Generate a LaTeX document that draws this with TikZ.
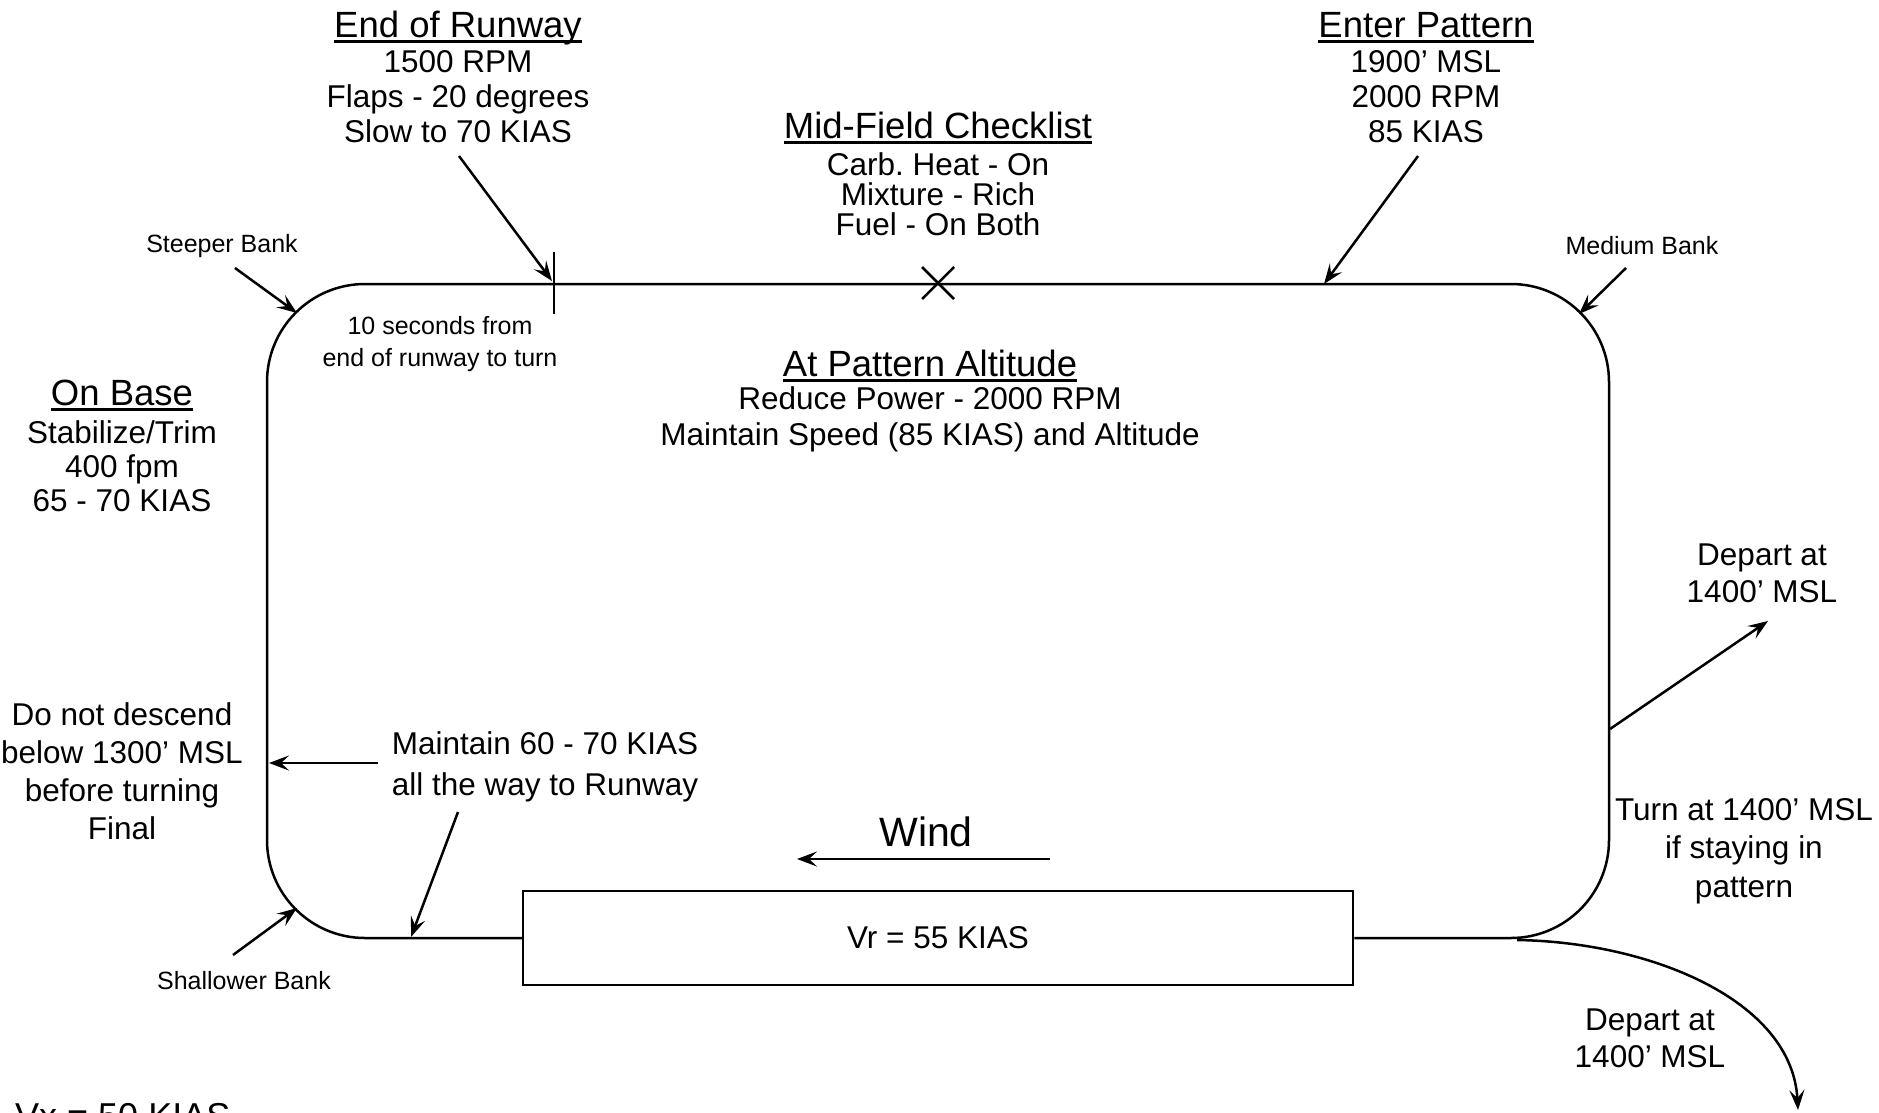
\documentclass[tikz,border=0pt]{standalone}
\usepackage{fontspec}
\setmainfont{Liberation Sans}
\usetikzlibrary{arrows.meta}
\frenchspacing
\newsavebox\ulbox
\newcommand{\ulx}[1]{\sbox\ulbox{#1}\rlap{\rule[-0.17em]{\wd\ulbox}{0.075em}}\usebox\ulbox}
\tikzset{
  ln/.style={line width=2.5pt},
  arr/.style={ln, -{Stealth[length=20pt,width=15pt,inset=8pt]}},
  ttl/.style={font=\fontsize{36.5}{40}\selectfont, inner sep=0pt, anchor=base},
  body/.style={font=\fontsize{31.5}{#1}\selectfont, align=center, inner sep=0pt},
  body/.default=35,
  small/.style={font=\fontsize{25}{32}\selectfont, align=center, inner sep=0pt},
}
\begin{document}
\begin{tikzpicture}[x=1pt,y=-1pt]
\fill[white] (0,0) rectangle (1879,1112);
\clip (0,0) rectangle (1879,1112);

% runway
\node[draw, ln, minimum width=830pt, minimum height=94pt, inner sep=0pt,
      font=\fontsize{31.5}{35}\selectfont] (rw) at (938,938) {Vr = 55 KIAS};

% traffic pattern
\draw[ln, rounded corners=98pt] (rw.west) -- (267,938) -- (267,284) -- (1609,284) -- (1609,938) -- (rw.east);

% end-of-runway tick and mid-field cross
\coordinate (tick) at (554,283);
\draw[ln] (554,252) -- (554,314);
\coordinate (mid) at (938,283);
\draw[ln] (922,267) -- (954,299) (922,299) -- (954,267);

% texts
\node[ttl] (eorT) at (458,37) {\ulx{End of Runway}};
\node[body] (eorB) at (458,97) {1500 RPM\\Flaps - 20 degrees\\Slow to 70 KIAS};
\node[ttl] (epT) at (1426,37) {\ulx{Enter Pattern}};
\node[body] (epB) at (1426,97) {1900’ MSL\\2000 RPM\\85 KIAS};
\node[ttl] (mfT) at (938,138) {\ulx{Mid-Field Checklist}};
\node[body=30] (mfB) at (938,194) {Carb. Heat - On\\Mixture - Rich\\Fuel - On Both};
\node[ttl] (apT) at (930,376) {\ulx{At Pattern Altitude}};
\node[body=36] (apB) at (930,419) {Reduce Power - 2000 RPM\\Maintain Speed (85 KIAS) and Altitude};
\node[ttl] (obT) at (122,405) {\ulx{On Base}};
\node[body=34] (obB) at (122,466) {Stabilize/Trim\\400 fpm\\65 - 70 KIAS};
\node[small] (steep) at (222,246) {Steeper Bank};
\node[small] (medium) at (1642,246) {Medium Bank};
\node[small] (shallow) at (244,981) {Shallower Bank};
\node[small] (tensec) at (440,344) {10 seconds from\\end of runway to turn};
\node[body=38] (dnd) at (122,771) {Do not descend\\below 1300’ MSL\\before turning\\Final};
\node[body=41] (maint) at (545,767) {Maintain 60 - 70 KIAS\\all the way to Runway};
\node[body=38.5] (turn) at (1744,851) {Turn at 1400’ MSL\\if staying in\\pattern};
\node[body=37] (depR) at (1762,573) {Depart at\\1400’ MSL};
\node[body=37] (depB) at (1650,1038) {Depart at\\1400’ MSL};
\node[font=\fontsize{41}{46}\selectfont, inner sep=0pt] (wind) at (926,832) {Wind};
\node[font=\fontsize{36}{40}\selectfont, inner sep=0pt, anchor=base west] (vx) at (15,1128) {Vx = 50 KIAS};

% arrow end points
\coordinate (eorS) at (459,156);
\coordinate (eorE) at (552,281);
\coordinate (epS) at (1418,156);
\coordinate (epE) at (1324,284);
\coordinate (stS) at (235,268);
\coordinate (stE) at (297,313);
\coordinate (mbS) at (1626,268);
\coordinate (mbE) at (1579,314);
\coordinate (shS) at (233,955);
\coordinate (shE) at (297,908);
\coordinate (dndS) at (378,763);
\coordinate (dndE) at (269,763);
\coordinate (mtS) at (458,812);
\coordinate (mtE) at (411,937);
\coordinate (wS) at (1050,859);
\coordinate (wE) at (797,859);
\coordinate (drS) at (1610,729);
\coordinate (drE) at (1768,621);
\coordinate (dbS) at (1517,940);
\coordinate (dbE) at (1798,1110);

\draw[arr] (eorS) -- (eorE);
\draw[arr] (epS) -- (epE);
\draw[arr] (stS) -- (stE);
\draw[arr] (mbS) -- (mbE);
\draw[arr] (shS) -- (shE);
\draw[arr] (dndS) -- (dndE);
\draw[arr] (mtS) -- (mtE);
\draw[arr] (wS) -- (wE);
\draw[arr] (drS) -- (drE);
\draw[arr] (dbS) .. controls (1650,942) and (1792,1000) .. (dbE);
\end{tikzpicture}
\end{document}
